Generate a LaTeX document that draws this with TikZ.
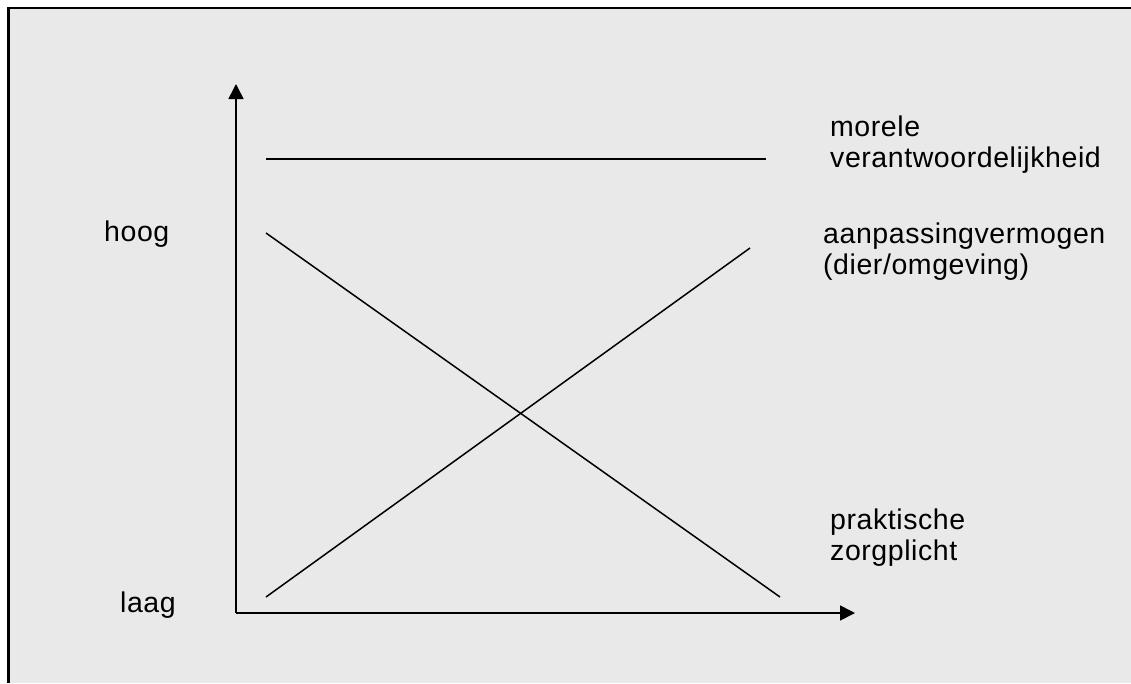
\documentclass[tikz,border=0pt]{standalone}
\usepackage{fontspec}
\setmainfont{Liberation Sans}[LetterSpace=2]
\usetikzlibrary{arrows.meta}
\definecolor{panelgray}{RGB}{233,233,233}
\tikzset{
  frame/.style={draw=black,line width=2.2pt},
  axis/.style={line width=1.7pt,-{Triangle[length=15pt,width=15pt]}},
  curve/.style={line width=1.5pt},
  lbl/.style={inner sep=0pt,anchor=base west,align=left,font=\fontsize{28.5}{31}\selectfont}
}

\begin{document}
\begin{tikzpicture}[x=1pt,y=-1pt]
% page and panel
\fill[white] (0,0) rectangle (1131,683);
\useasboundingbox (0,0) rectangle (1131,683);
\fill[panelgray] (8.5,7.8) rectangle (1131,683);
\draw[frame] (8.5,683) -- (8.5,7.8) -- (1131,7.8);

% axes
\coordinate (origin) at (236,613);
\coordinate (ytop) at (236,84);
\coordinate (xend) at (855,613);
\draw[axis] (origin) -- (ytop);
\draw[axis] (origin) -- (xend);

% lines
\coordinate (mor-a) at (266,159);
\coordinate (mor-b) at (766,159);
\coordinate (zorg-a) at (266,233);
\coordinate (zorg-b) at (780,597);
\coordinate (aanp-a) at (266,597);
\coordinate (aanp-b) at (750,248);
\draw[curve] (mor-a) -- (mor-b);
\draw[curve] (zorg-a) -- (zorg-b);
\draw[curve] (aanp-a) -- (aanp-b);

% labels (base = last line)
\node[lbl] (hoog) at (104,241.7) {hoog};
\node[lbl] (laag) at (120,612.5) {laag};
\node[lbl] (moreel) at (830,167.5) {morele\\verantwoordelijkheid};
\node[lbl] (aanpassing) at (823,274) {aanpassingvermogen\\(dier/omgeving)};
\node[lbl] (zorgplicht) at (830,560) {praktische\\zorgplicht};
\end{tikzpicture}
\end{document}
